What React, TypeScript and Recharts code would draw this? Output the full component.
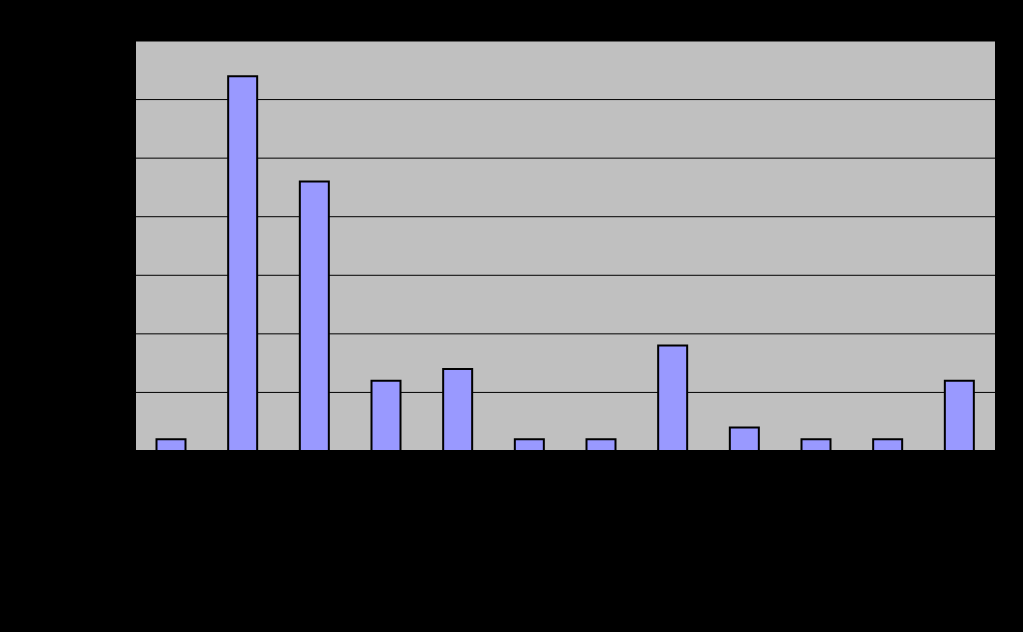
import { BarChart, Bar, XAxis, YAxis, CartesianGrid } from "recharts";

// category labels are black on black in the source; lengths roughly match
const categories = [
  "zemědělství, lesnictví a rybolov celkem",
  "průmysl celk.",
  "stavebnictví a řemesla",
  "obchod a služby",
  "doprava a spoje celkem",
  "peněžnictví a pojišťovnictví",
  "školství",
  "zdravotnictví",
  "veřejná správa",
  "jiné",
  "vědecká činnost",
  "ostatní služby",
];
const counts = [1, 32, 23, 6, 7, 1, 1, 9, 2, 1, 1, 6];
const yTicks = [0, 5, 10, 15, 20, 25, 30, 35];

const data = categories.map((name, i) => ({ name, value: counts[i] }));

const AngledTick = (props: any) => {
  const { x, y, payload } = props;
  return (
    <text
      x={x - 8}
      y={y + 12}
      transform={`rotate(-45 ${x - 8} ${y + 12})`}
      textAnchor="end"
      fontSize={11}
      fontFamily="Liberation Sans, Arial, sans-serif"
      fill="#000"
    >
      {payload.value}
    </text>
  );
};

export default function App() {
  return (
    <div style={{ position: "fixed", left: 0, top: 0, width: 1023, height: 632, background: "#000" }}>
      <BarChart
        width={1023}
        height={632}
        data={data}
        margin={{ top: 41, right: 28, left: 0, bottom: 0 }}
        barCategoryGap="30%"
      >
        <CartesianGrid vertical={false} stroke="#000" strokeWidth={1} fill="#c0c0c0" fillOpacity={1} />
        <XAxis
          dataKey="name"
          interval={0}
          height={181}
          tick={<AngledTick />}
          tickLine={false}
          axisLine={{ stroke: "#000", strokeWidth: 2 }}
        />
        <YAxis
          domain={[0, 35]}
          ticks={yTicks}
          width={135}
          tick={{ fontSize: 11, fill: "#000", fontFamily: "Liberation Sans, Arial, sans-serif" }}
          tickLine={{ stroke: "#000" }}
          tickSize={6}
          axisLine={{ stroke: "#000", strokeWidth: 2 }}
        />
        <Bar dataKey="value" fill="#9999ff" stroke="#000" strokeWidth={2} isAnimationActive={false} />
      </BarChart>
    </div>
  );
}
